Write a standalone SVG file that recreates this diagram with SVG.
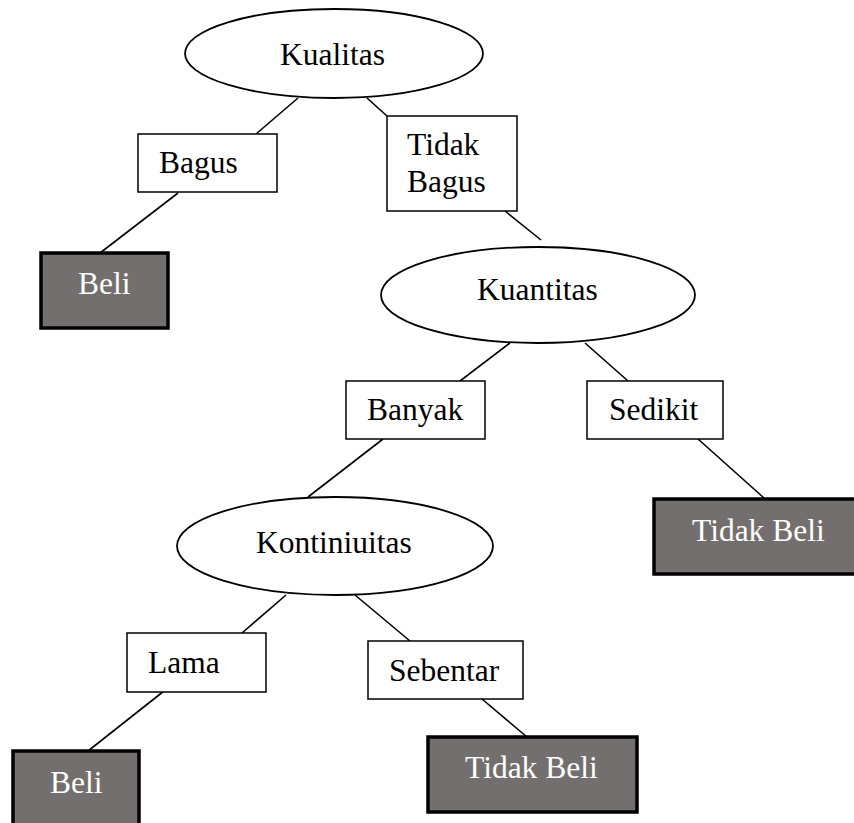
<svg xmlns="http://www.w3.org/2000/svg" width="854" height="823" viewBox="0 0 854 823">
<style>
text{font-family:"Liberation Serif","Times New Roman",serif;font-size:31.5px;fill:#000}
.ell{fill:#fff;stroke:#000;stroke-width:1.8}
.box{fill:#fff;stroke:#000;stroke-width:1.5}
.leaf{fill:#736f6e;stroke:#000;stroke-width:3.5}
.leaf-t{fill:#fff}
.edge{stroke:#000;stroke-width:1.6;fill:none}
</style>
<rect width="854" height="823" fill="#fff"/>
<g id="connectors">
<line class="edge" x1="298" y1="98" x2="256" y2="134"/>
<line class="edge" x1="367" y1="98" x2="387" y2="116"/>
<line class="edge" x1="178" y1="193" x2="100" y2="253"/>
<line class="edge" x1="505" y1="211" x2="541" y2="240"/>
<line class="edge" x1="510" y1="343" x2="460" y2="381"/>
<line class="edge" x1="585" y1="343" x2="628" y2="381"/>
<line class="edge" x1="698" y1="439" x2="764" y2="498"/>
<line class="edge" x1="383" y1="439" x2="308" y2="497"/>
<line class="edge" x1="286" y1="595" x2="242" y2="633"/>
<line class="edge" x1="355" y1="595" x2="410" y2="641"/>
<line class="edge" x1="164" y1="691" x2="88" y2="751"/>
<line class="edge" x1="482" y1="699" x2="527" y2="737"/>
</g>
<g id="kualitas">
<ellipse class="ell" cx="334" cy="53.5" rx="149" ry="44.5"/>
<text x="280" y="65">Kualitas</text>
</g>
<g id="bagus">
<rect class="box" x="138" y="134" width="139" height="58"/>
<text x="159" y="173">Bagus</text>
</g>
<g id="beli1">
<rect class="leaf" x="41" y="253" width="127" height="75"/>
<text class="leaf-t" x="78" y="294">Beli</text>
</g>
<g id="tidak-bagus">
<rect class="box" x="387" y="116" width="130" height="95"/>
<text x="407" y="155">Tidak</text>
<text x="407" y="192">Bagus</text>
</g>
<g id="kuantitas">
<ellipse class="ell" cx="538" cy="295" rx="157" ry="48"/>
<text x="477" y="300">Kuantitas</text>
</g>
<g id="banyak">
<rect class="box" x="346" y="381" width="139" height="58"/>
<text x="367" y="420">Banyak</text>
</g>
<g id="sedikit">
<rect class="box" x="587" y="381" width="136" height="58"/>
<text x="609" y="420">Sedikit</text>
</g>
<g id="tidak-beli1">
<rect class="leaf" x="654" y="499" width="210" height="75"/>
<text class="leaf-t" x="692" y="541">Tidak Beli</text>
</g>
<g id="kontiniuitas">
<ellipse class="ell" cx="335" cy="546" rx="158" ry="49"/>
<text x="256" y="553">Kontiniuitas</text>
</g>
<g id="lama">
<rect class="box" x="127" y="633" width="139" height="59"/>
<text x="148" y="673">Lama</text>
</g>
<g id="sebentar">
<rect class="box" x="368" y="641" width="155" height="58"/>
<text x="389" y="681">Sebentar</text>
</g>
<g id="beli2">
<rect class="leaf" x="13" y="751" width="126" height="90"/>
<text class="leaf-t" x="50" y="793">Beli</text>
</g>
<g id="tidak-beli2">
<rect class="leaf" x="428" y="737" width="209" height="75"/>
<text class="leaf-t" x="465" y="778">Tidak Beli</text>
</g>
</svg>
